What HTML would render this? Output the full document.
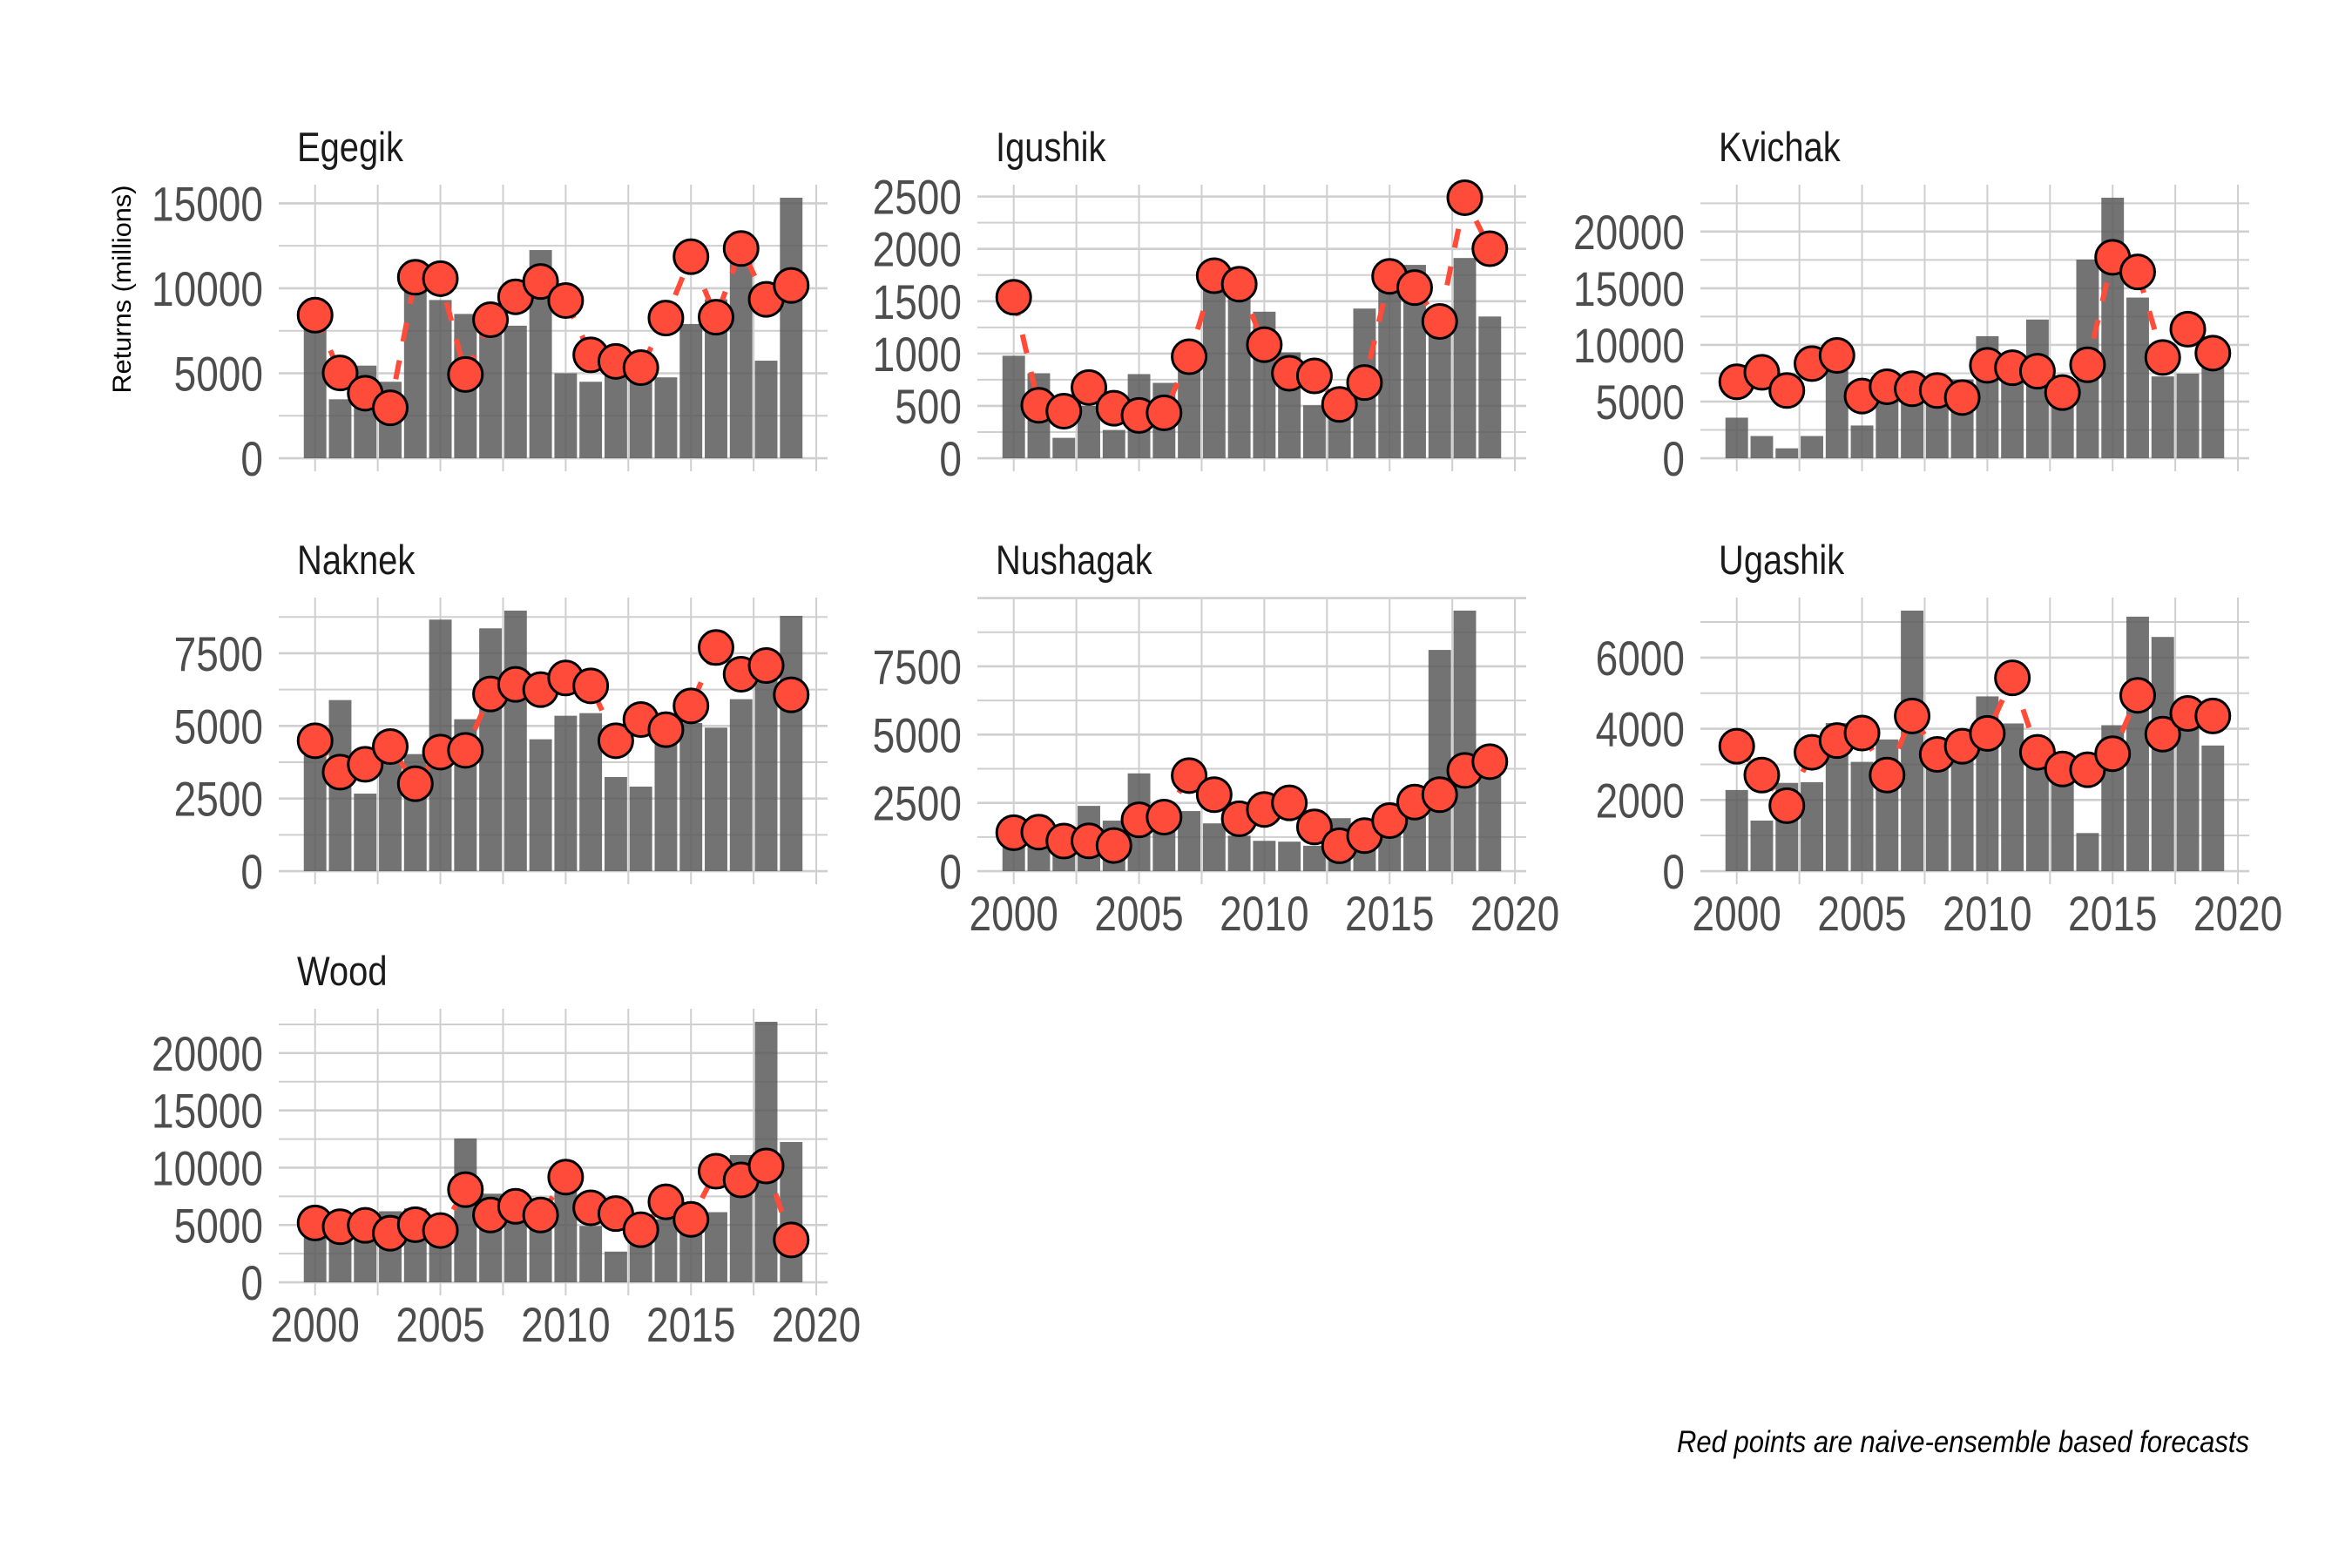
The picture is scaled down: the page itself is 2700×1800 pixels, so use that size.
<!DOCTYPE html>
<html><head><meta charset="utf-8"><style>
html,body{margin:0;padding:0;background:#fff;}
svg{display:block;}
text{font-family:"Liberation Sans Narrow","Liberation Sans",sans-serif;}
</style></head><body>
<svg id="chart" width="2700" height="1800" viewBox="0 0 2700 1800" xmlns="http://www.w3.org/2000/svg">
<rect x="0" y="0" width="2700" height="1800" fill="#ffffff"/>
<text transform="translate(150,332) rotate(-90)" text-anchor="middle" font-size="30" fill="#000" style="font-family:'Liberation Sans',sans-serif" textLength="239" lengthAdjust="spacingAndGlyphs">Returns (millions)</text>
<text x="2582" y="1667" text-anchor="end" font-size="35" font-style="italic" fill="#000" textLength="657" lengthAdjust="spacingAndGlyphs">Red points are naive-ensemble based forecasts</text>
</svg>
<script>
const years = [2000,2001,2002,2003,2004,2005,2006,2007,2008,2009,2010,2011,2012,2013,2014,2015,2016,2017,2018,2019];
const panelNames = ["Egegik","Igushik","Kvichak","Naknek","Nushagak","Ugashik","Wood"];
const egegikReturns = [7700,3470,5450,4500,10000,9310,8490,7900,7800,12250,5000,4500,4900,5000,4760,7900,9350,11900,5740,15330];
const egegikForecast = [8420,5020,3830,2970,10650,10570,4930,8150,9500,10400,9280,6080,5700,5330,8250,11860,8300,12340,9350,10170];
const igushikReturns = [979,812,195,500,270,804,720,960,1610,1570,1400,1012,506,650,1430,1610,1847,1350,1913,1354];
const igushikForecast = [1538,506,450,676,478,409,434,970,1744,1663,1085,812,787,514,723,1738,1630,1307,2489,2002];
const kvichakReturns = [3580,1960,876,1960,7730,2890,5600,5600,5600,6960,10770,7800,12240,5800,17530,22990,14180,7220,7470,7990];
const kvichakForecast = [6750,7580,5980,8350,9070,5490,6310,6130,5980,5360,8200,7990,7680,5800,8250,17730,16440,8890,11390,9280];
const naknekReturns = [4300,5890,2670,4100,4030,8660,5230,8360,8970,4540,5350,5440,3240,2910,4700,5100,4940,5920,6700,8790];
const naknekForecast = [4490,3410,3680,4290,3010,4100,4160,6100,6430,6250,6650,6380,4490,5220,4870,5690,7700,6780,7080,6070];
const nushagakReturns = [1100,1100,1000,2390,1850,3580,1700,2200,1750,1300,1110,1080,930,1940,1200,2100,2000,8100,9540,3500];
const nushagakForecast = [1410,1430,1100,1110,940,1880,1980,3500,2800,1920,2260,2500,1620,930,1300,1850,2530,2800,3690,4010];
const ugashikReturns = [2280,1420,2480,2500,4160,3070,3700,7320,3300,3300,4910,4150,3100,2800,1070,4100,7150,6580,4300,3530];
const ugashikForecast = [3510,2700,1840,3340,3670,3880,2700,4360,3280,3510,3870,5430,3340,2870,2850,3300,4940,3850,4430,4360];
const woodReturns = [4800,4500,4800,6200,6450,4400,12550,7730,6500,7200,7900,4920,2680,3900,5500,5000,6120,11100,22730,12240];
const woodForecast = [5180,4850,4970,4290,5030,4520,8090,5870,6630,5870,9180,6500,6000,4590,7020,5490,9690,8930,10150,3700];
const egegikTicks = [0,5000,10000,15000];
const igushikTicks = [0,500,1000,1500,2000,2500];
const kvichakTicks = [0,5000,10000,15000,20000];
const naknekTicks = [0,2500,5000,7500];
const nushagakTicks = [0,2500,5000,7500];
const ugashikTicks = [0,2000,4000,6000];
const woodTicks = [0,5000,10000,15000,20000];
const xTickLabels = [2000,2005,2010,2015,2020];

const NS = "http://www.w3.org/2000/svg";
const svg = document.getElementById("chart");
function mk(tag, attrs, parent){
  const e = document.createElementNS(NS, tag);
  for (const k in attrs) e.setAttribute(k, attrs[k]);
  (parent||svg).appendChild(e);
  return e;
}
const colLeft = [320,1122,1952];
const rowTop = [212,686,1158];
const PW = 630, PH = 329;
const panels = [
  {name:panelNames[0], r:0,c:0, bars:egegikReturns, pts:egegikForecast, ticks:egegikTicks, xlab:false},
  {name:panelNames[1], r:0,c:1, bars:igushikReturns, pts:igushikForecast, ticks:igushikTicks, xlab:false},
  {name:panelNames[2], r:0,c:2, bars:kvichakReturns, pts:kvichakForecast, ticks:kvichakTicks, xlab:false},
  {name:panelNames[3], r:1,c:0, bars:naknekReturns, pts:naknekForecast, ticks:naknekTicks, xlab:false},
  {name:panelNames[4], r:1,c:1, bars:nushagakReturns, pts:nushagakForecast, ticks:nushagakTicks, xlab:true},
  {name:panelNames[5], r:1,c:2, bars:ugashikReturns, pts:ugashikForecast, ticks:ugashikTicks, xlab:true},
  {name:panelNames[6], r:2,c:0, bars:woodReturns, pts:woodForecast, ticks:woodTicks, xlab:true}
];
panels.forEach(p => {
  const L = colLeft[p.c], T = rowTop[p.r];
  const slug = p.name.toLowerCase();
  const g = mk("g", {});
  
  
  const xmin = 1998.55, xmax = 2020.45;
  const xs = v => L + (v - xmin) / (xmax - xmin) * PW;
  const mx = Math.max(Math.max(...p.bars), Math.max(...p.pts));
  const lo = -0.05*mx, hi = 1.05*mx;
  const ys = v => T + PH - (v - lo) / (hi - lo) * PH;
  const step = p.ticks[1] - p.ticks[0];
  for (let v = 0; v <= hi + 1e-9; v += step/2) {
    const ln = mk("line", {x1:L, x2:L+PW, y1:ys(v), y2:ys(v), stroke:"#cfcfcf", "stroke-width": (Math.abs(v/step - Math.round(v/step))<1e-6) ? 2.6 : 2}, g);
    
    
  }
  for (let v = 2000; v <= 2020; v += 2.5) {
    const ln = mk("line", {x1:xs(v), x2:xs(v), y1:T, y2:T+PH, stroke:"#cfcfcf", "stroke-width":2}, g);
    
    
  }
  p.bars.forEach((v,i) => {
    const x0 = xs(years[i]-0.45), x1 = xs(years[i]+0.45);
    const b = mk("rect", {x:x0, y:ys(v), width:x1-x0, height:ys(0)-ys(v), fill:"#5a5a5a", "fill-opacity":0.85}, g);
    
    
  });
  const d = p.pts.map((v,i) => (i?"L":"M") + xs(years[i]) + " " + ys(v)).join(" ");
  const path = mk("path", {d:d, fill:"none", stroke:"#FF4B3A", "stroke-width":6, "stroke-dasharray":"22 22"}, g);
  
  
  p.pts.forEach((v,i) => {
    const c = mk("circle", {cx:xs(years[i]), cy:ys(v), r:19.5, fill:"#FF4B3A", stroke:"#000", "stroke-width":3}, g);
    
    
  });
  p.ticks.forEach(v => {
    const s = String(v);
    const t = mk("text", {x:L-18, y:ys(v)+20, "text-anchor":"end", "font-size":56, fill:"#4d4d4d", textLength:s.length*25.6, lengthAdjust:"spacingAndGlyphs"}, g);
    t.textContent = s;
    
    
  });
  if (p.xlab) {
    xTickLabels.forEach(v => {
      const s = String(v);
      const t = mk("text", {x:xs(v), y:T+PH+53, "text-anchor":"middle", "font-size":56, fill:"#4d4d4d", textLength:s.length*25.6, lengthAdjust:"spacingAndGlyphs"}, g);
      t.textContent = s;
      
      
    });
  }
  const tt = mk("text", {x:L+21, y:T-27, "font-size":47, fill:"#1a1a1a"}, g);
  tt.textContent = p.name;
  
  
  const w = tt.getComputedTextLength();
  if (w > 0) {
    const probe = mk("text", {x:0, y:-100, "font-size":47}, g);
    probe.textContent = "Egegik";
    const pw = probe.getComputedTextLength();
    g.removeChild(probe);
    if (pw > 132) {
      tt.setAttribute("textLength", w * 122 / pw);
      tt.setAttribute("lengthAdjust", "spacingAndGlyphs");
    }
  }
});
</script>
</body></html>
